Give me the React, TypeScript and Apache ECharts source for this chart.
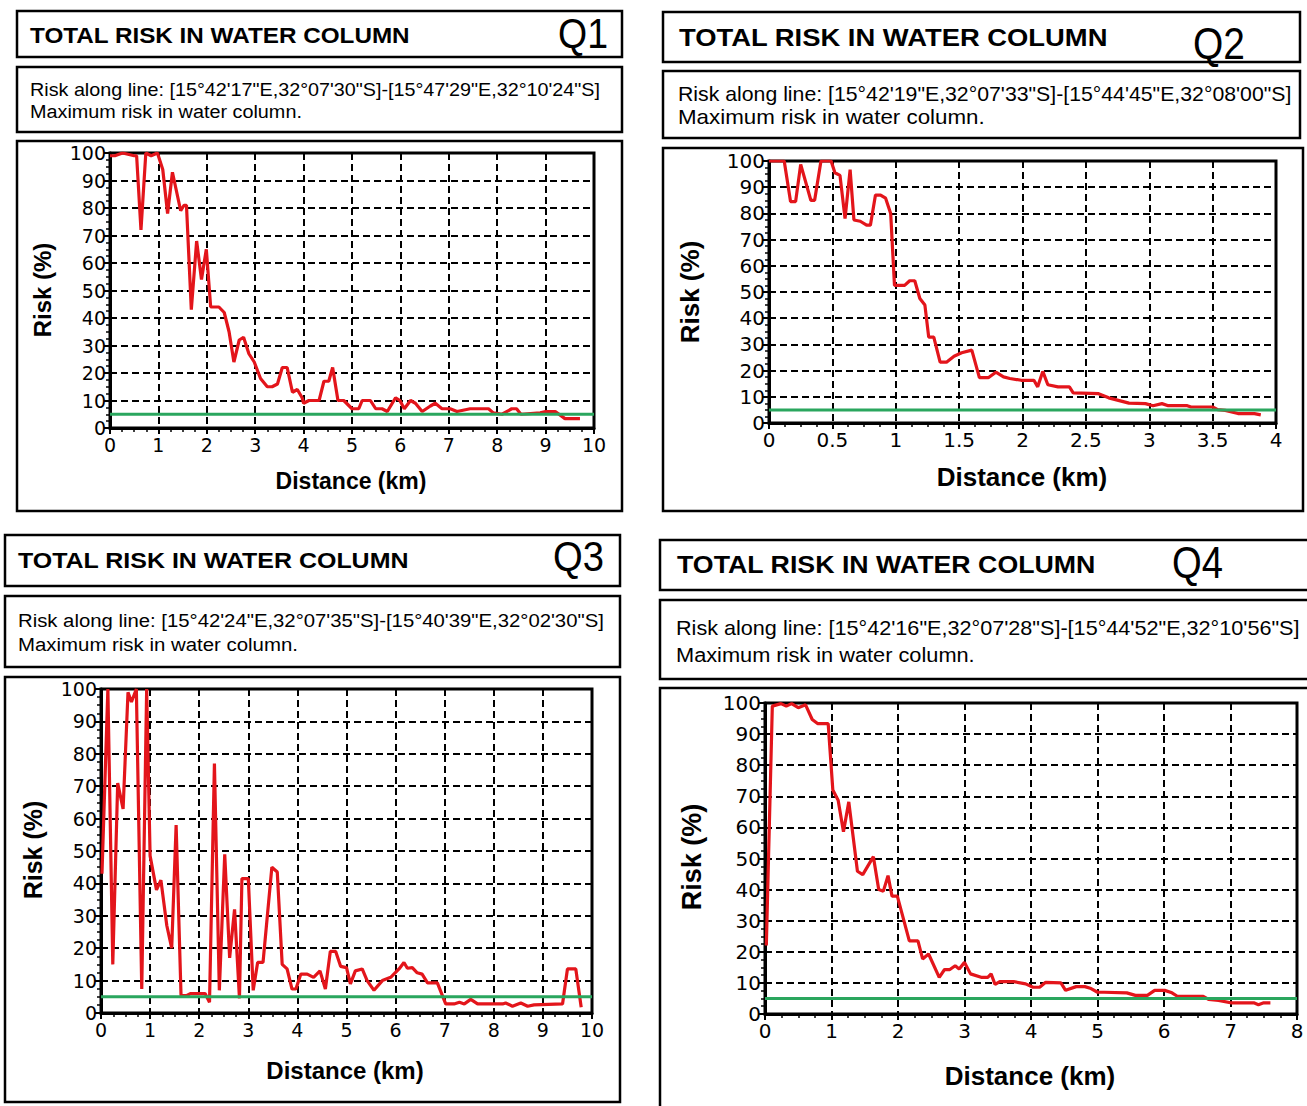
import React, { useEffect, useRef } from "react";
import * as echarts from "echarts";

// ---------------- DATA ----------------
const Q1_DIST = [0, 0.1, 0.26, 0.5, 0.55, 0.64, 0.74, 0.85, 0.98, 1.09, 1.19, 1.29, 1.46, 1.53, 1.58, 1.68, 1.79, 1.89, 1.99, 2.08, 2.25, 2.36, 2.46, 2.56, 2.67, 2.76, 2.87, 2.98, 3.11, 3.25, 3.35, 3.46, 3.56, 3.66, 3.77, 3.87, 3.97, 4.0, 4.11, 4.32, 4.42, 4.52, 4.6, 4.71, 4.83, 5.0, 5.14, 5.21, 5.38, 5.49, 5.62, 5.73, 5.9, 5.99, 6.08, 6.21, 6.31, 6.45, 6.62, 6.72, 6.86, 7.03, 7.17, 7.44, 7.82, 7.92, 8.1, 8.3, 8.4, 8.49, 8.89, 9.0, 9.2, 9.4, 9.71];
const Q1_RISK = [99, 99, 100, 99, 99, 72, 100, 99, 100, 94, 78, 93, 79, 81, 81, 43, 68, 54, 65, 44, 44, 42, 35, 24, 32, 33, 27, 24, 18, 15, 15, 16, 22, 22, 13, 14, 11, 9, 10, 10, 17, 17, 22, 10, 10, 7, 7, 10, 10, 7, 7, 6, 11, 10, 7, 10, 9, 6, 8, 9, 7, 7, 6, 7, 7, 5.5, 5, 7, 7, 5, 5.5, 6, 6, 3.4, 3.4];

const Q2_DIST = [0, 0.12, 0.17, 0.21, 0.25, 0.33, 0.36, 0.41, 0.49, 0.52, 0.56, 0.6, 0.64, 0.67, 0.72, 0.77, 0.8, 0.84, 0.88, 0.92, 0.96, 0.99, 1.07, 1.11, 1.15, 1.19, 1.23, 1.26, 1.3, 1.35, 1.4, 1.46, 1.52, 1.6, 1.66, 1.73, 1.79, 1.85, 1.9, 1.99, 2.09, 2.12, 2.16, 2.2, 2.28, 2.37, 2.4, 2.6, 2.68, 2.84, 2.97, 3.03, 3.1, 3.15, 3.3, 3.33, 3.5, 3.54, 3.6, 3.7, 3.83, 3.88];
const Q2_RISK = [100, 100, 84.5, 84.5, 98.7, 85, 85, 100, 100, 95.5, 94.5, 78, 96.7, 77.5, 77, 75.5, 75.5, 87, 87, 85.8, 80, 52.5, 52.5, 54.3, 54.3, 47.5, 45, 32.8, 32.8, 23.2, 23.2, 25.5, 26.8, 27.8, 17.3, 17.3, 19.4, 17.6, 17, 16.3, 16.3, 13.8, 19.7, 14.6, 13.8, 13.8, 11.5, 11.2, 9.6, 7.6, 7.4, 6.6, 7.4, 6.6, 6.6, 6.1, 6.1, 5.1, 4.8, 3.6, 3.6, 3.1];

const Q3_DIST = [0.02, 0.14, 0.24, 0.34, 0.45, 0.55, 0.62, 0.72, 0.83, 0.93, 1.0, 1.13, 1.22, 1.34, 1.44, 1.53, 1.63, 1.75, 1.82, 2.12, 2.21, 2.31, 2.41, 2.52, 2.62, 2.72, 2.82, 2.87, 3.0, 3.1, 3.19, 3.3, 3.48, 3.59, 3.69, 3.79, 3.89, 3.97, 4.07, 4.2, 4.33, 4.46, 4.57, 4.67, 4.78, 4.88, 5.0, 5.08, 5.18, 5.32, 5.42, 5.56, 5.73, 5.9, 6.07, 6.17, 6.24, 6.34, 6.44, 6.54, 6.65, 6.85, 7.02, 7.19, 7.3, 7.4, 7.53, 7.67, 8.18, 8.24, 8.38, 8.55, 8.69, 8.82, 9.4, 9.5, 9.67, 9.78];
const Q3_RISK = [43, 100, 15, 71, 63, 99, 96, 100, 7.4, 100, 48.5, 38, 41, 27, 20, 58, 5.4, 5.4, 6, 6, 3.3, 77, 7, 49, 17, 32, 4.5, 41.5, 41.5, 7, 15.6, 15.6, 45, 43.5, 15, 13.6, 7.4, 7.4, 12, 12, 11, 13, 7.4, 19, 19, 14.4, 14, 9, 13, 13.6, 10, 7, 10, 11, 13.6, 15.6, 13.8, 14, 12.4, 12, 9.3, 9.3, 2.8, 2.8, 3.3, 2.8, 4.2, 2.8, 2.8, 3.1, 2.1, 3.1, 2.1, 2.5, 2.8, 13.6, 13.6, 1.8];

const Q4_DIST = [0.02, 0.11, 0.24, 0.32, 0.4, 0.5, 0.61, 0.71, 0.79, 0.95, 1.02, 1.1, 1.18, 1.26, 1.39, 1.47, 1.63, 1.71, 1.78, 1.85, 1.91, 1.99, 2.17, 2.3, 2.37, 2.46, 2.62, 2.7, 2.78, 2.86, 2.92, 3.0, 3.09, 3.25, 3.35, 3.4, 3.46, 3.53, 3.74, 3.92, 4.03, 4.13, 4.22, 4.45, 4.52, 4.68, 4.81, 4.89, 5.0, 5.1, 5.44, 5.57, 5.75, 5.86, 6.01, 6.12, 6.2, 6.59, 6.67, 6.82, 7.0, 7.35, 7.42, 7.5, 7.6];
const Q4_RISK = [22, 99, 99.8, 99, 99.8, 98.5, 99.4, 94.7, 93.4, 93.4, 72, 68.7, 58.6, 68.2, 45.9, 44.8, 50.6, 40, 39.5, 44.5, 37.9, 37.9, 23.5, 23.5, 17.7, 19.3, 11.8, 14.3, 14.3, 15.5, 14.5, 16.6, 12.9, 11.8, 11.8, 12.9, 9.5, 10.4, 10.4, 9.7, 8.6, 8.6, 10.2, 10, 7.6, 8.8, 8.8, 8.3, 7, 7, 6.8, 6, 6, 7.6, 7.6, 6.8, 5.7, 5.7, 4.7, 4.4, 3.6, 3.6, 3, 3.6, 3.6];

const THRESHOLD = 5; // green reference line (%)
const X_MAX = [10, 4, 10, 8];
const X_INTERVAL = [1, 0.5, 1, 1];
const Y_MIN = 0;
const Y_MAX = 100;
const Y_INTERVAL = 10;

const PANEL_LABELS = ["Q1", "Q2", "Q3", "Q4"];
const TITLE = "TOTAL RISK IN WATER COLUMN";
const LINE_TEXTS = [
  "Risk along line: [15°42'17\"E,32°07'30\"S]-[15°47'29\"E,32°10'24\"S]",
  "Risk along line: [15°42'19\"E,32°07'33\"S]-[15°44'45\"E,32°08'00\"S]",
  "Risk along line: [15°42'24\"E,32°07'35\"S]-[15°40'39\"E,32°02'30\"S]",
  "Risk along line: [15°42'16\"E,32°07'28\"S]-[15°44'52\"E,32°10'56\"S]",
];
const SUB_TEXT = "Maximum risk in water column.";
const Y_NAME = "Risk (%)";
const X_NAME = "Distance (km)";

const DISTS = [Q1_DIST, Q2_DIST, Q3_DIST, Q4_DIST];
const RISKS = [Q1_RISK, Q2_RISK, Q3_RISK, Q4_RISK];

// ---------------- LAYOUT ----------------
const FONT = '"Liberation Sans", Arial, Helvetica, sans-serif';
const TICK_FONT = '"DejaVu Sans", Verdana, sans-serif';

const LAYOUT = [
  {
    grid: { left: 110, top: 153, width: 484, height: 275 },
    titleBox: [17, 11, 605, 46], subBox: [17, 67, 605, 65], chartBox: [17, 141, 605, 370],
    title: { x: 30, y: 35, size: 22, w: 380 },
    q: { x: 558, y: 33, size: 42, w: 50 },
    sub1: { x: 30, y: 89, size: 19, w: 570 },
    sub2: { x: 30, y: 111, size: 19, w: 272 },
    yName: { x: 42, y: 290, size: 24 },
    xName: { x: 351, y: 481, size: 23 },
    tickFont: 19,
  },
  {
    grid: { left: 769, top: 161, width: 507, height: 262 },
    titleBox: [663, 12, 637, 50], subBox: [663, 71, 637, 67], chartBox: [663, 148, 640, 363],
    title: { x: 679, y: 38, size: 23, w: 429 },
    q: { x: 1193, y: 44, size: 44, w: 52 },
    sub1: { x: 678, y: 94, size: 20, w: 614 },
    sub2: { x: 678, y: 117, size: 20, w: 307 },
    yName: { x: 690, y: 292, size: 26 },
    xName: { x: 1022, y: 477, size: 26 },
    tickFont: 20,
  },
  {
    grid: { left: 101, top: 689, width: 491, height: 324 },
    titleBox: [5, 535, 615, 51], subBox: [5, 596, 615, 71], chartBox: [5, 677, 615, 425],
    title: { x: 18, y: 561, size: 22, w: 391 },
    q: { x: 553, y: 557, size: 42, w: 51 },
    sub1: { x: 18, y: 620, size: 19, w: 586 },
    sub2: { x: 18, y: 644, size: 19, w: 280 },
    yName: { x: 33, y: 850, size: 25 },
    xName: { x: 345, y: 1070, size: 24 },
    tickFont: 19,
  },
  {
    grid: { left: 765, top: 703, width: 532, height: 311 },
    titleBox: [660, 540, 660, 50], subBox: [660, 600, 660, 79], chartBox: [660, 688, 660, 430],
    title: { x: 677, y: 565, size: 23, w: 419 },
    q: { x: 1172, y: 563, size: 44, w: 51 },
    sub1: { x: 676, y: 628, size: 20, w: 624 },
    sub2: { x: 676, y: 655, size: 20, w: 299 },
    yName: { x: 692, y: 857, size: 27 },
    xName: { x: 1030, y: 1076, size: 26 },
    tickFont: 20,
  },
];

const RED = "#e3151b";
const GREEN = "#2aa65e";

function measure(text: string, size: number, weight: string): number {
  const c = document.createElement("canvas").getContext("2d");
  if (!c) return text.length * size * 0.5;
  c.font = `${weight} ${size}px ${FONT}`;
  return c.measureText(text).width;
}

function textEl(
  text: string,
  x: number,
  y: number,
  size: number,
  weight: string,
  extra: any = {},
  align = "left"
) {
  return {
    type: "text",
    x,
    y,
    z: 10,
    ...extra,
    style: {
      text,
      fill: "#000",
      fontSize: size,
      fontWeight: weight,
      fontFamily: FONT,
      align,
      textAlign: align,
      verticalAlign: "middle",
      textVerticalAlign: "middle",
    },
  };
}

function boxEl(b: number[]) {
  return {
    type: "rect",
    z: 11,
    shape: { x: b[0], y: b[1], width: b[2], height: b[3] },
    style: { fill: "none", stroke: "#000", lineWidth: 2.5 },
  };
}

function buildOption() {
  const elements: any[] = [];
  LAYOUT.forEach((L, i) => {
    const tw = measure(TITLE, L.title.size, "bold");
    elements.push(textEl(TITLE, L.title.x, L.title.y, L.title.size, "bold", { scaleX: L.title.w / tw }));
    const qw = measure(PANEL_LABELS[i], L.q.size, "normal");
    elements.push(textEl(PANEL_LABELS[i], L.q.x, L.q.y, L.q.size, "normal", { scaleX: L.q.w / qw }));
    const s2 = L.sub2.w / measure(SUB_TEXT, L.sub2.size, "normal");
    const s1 = L.sub1.w / measure(LINE_TEXTS[i], L.sub1.size, "normal");
    elements.push(textEl(LINE_TEXTS[i], L.sub1.x, L.sub1.y, L.sub1.size, "normal", { scaleX: s1 }));
    elements.push(textEl(SUB_TEXT, L.sub2.x, L.sub2.y, L.sub2.size, "normal", { scaleX: s2 }));
    elements.push(textEl(Y_NAME, L.yName.x, L.yName.y, L.yName.size, "bold", { rotation: Math.PI / 2 }, "center"));
    elements.push(textEl(X_NAME, L.xName.x, L.xName.y, L.xName.size, "bold", {}, "center"));
  });
  LAYOUT.forEach((L) => {
    elements.push(boxEl(L.titleBox));
    elements.push(boxEl(L.subBox));
    elements.push(boxEl(L.chartBox));
  });

  const grids = LAYOUT.map((L) => ({
    ...L.grid,
    show: true,
    borderColor: "#000",
    borderWidth: 3,
    backgroundColor: "transparent",
  }));

  const axisCommon = {
    axisLine: { show: true, onZero: false, lineStyle: { color: "#000", width: 3 } },
    axisTick: { show: true, inside: false, length: 6, lineStyle: { color: "#000", width: 2 } },
    splitLine: { show: true, lineStyle: { color: "#000", width: 2, type: [7, 4] } },
  };

  const xAxes = LAYOUT.map((L, i) => ({
    type: "value",
    gridIndex: i,
    min: 0,
    max: X_MAX[i],
    interval: X_INTERVAL[i],
    ...axisCommon,
    minorTick: { show: true, splitNumber: 4, length: 4, lineStyle: { color: "#000", width: 1.5 } },
    axisLabel: {
      color: "#000",
      fontFamily: TICK_FONT,
      fontSize: L.tickFont,
      margin: 7,
      showMaxLabel: true,
      showMinLabel: true,
    },
  }));

  const yAxes = LAYOUT.map((L, i) => ({
    type: "value",
    gridIndex: i,
    min: Y_MIN,
    max: Y_MAX,
    interval: Y_INTERVAL,
    ...axisCommon,
    minorTick: { show: true, splitNumber: 4, length: 4, lineStyle: { color: "#000", width: 1.5 } },
    axisLabel: {
      color: "#000",
      fontFamily: TICK_FONT,
      fontSize: L.tickFont,
      margin: 4,
      showMaxLabel: true,
      showMinLabel: true,
    },
  }));

  const series: any[] = [];
  DISTS.forEach((d, i) => {
    series.push({
      type: "line",
      name: PANEL_LABELS[i] + " risk",
      xAxisIndex: i,
      yAxisIndex: i,
      data: d.map((x, k) => [x, RISKS[i][k]]),
      symbol: "none",
      showSymbol: false,
      lineStyle: { color: RED, width: 3.2 },
      z: 3,
    });
    series.push({
      type: "line",
      name: PANEL_LABELS[i] + " threshold",
      xAxisIndex: i,
      yAxisIndex: i,
      data: [
        [0, THRESHOLD],
        [X_MAX[i], THRESHOLD],
      ],
      symbol: "none",
      showSymbol: false,
      lineStyle: { color: GREEN, width: 3 },
      z: 4,
    });
  });

  return {
    animation: false,
    backgroundColor: "#fff",
    grid: grids,
    xAxis: xAxes,
    yAxis: yAxes,
    series,
    graphic: { elements },
  };
}

export default function App() {
  const ref = useRef<HTMLDivElement>(null);
  useEffect(() => {
    if (!ref.current) return;
    const chart = echarts.init(ref.current, null, { renderer: "svg" });
    chart.setOption(buildOption() as any);
    return () => chart.dispose();
  }, []);
  return (
    <div
      ref={ref}
      style={{ position: "absolute", left: 0, top: 0, width: 1307, height: 1106, background: "#fff" }}
    />
  );
}
